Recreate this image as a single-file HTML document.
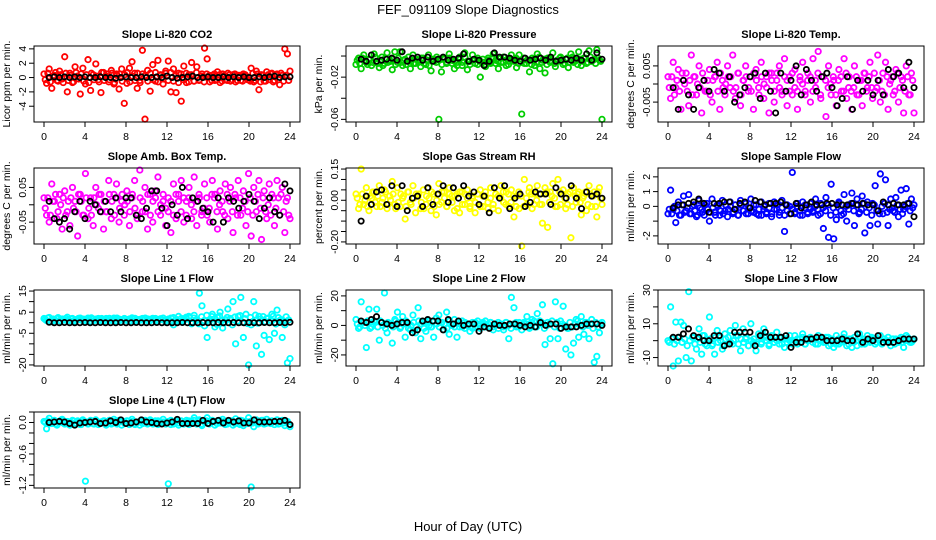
<!DOCTYPE html>
<html><head><meta charset="utf-8">
<style>
html,body{margin:0;padding:0;background:#fff;}
svg{display:block;font-family:"Liberation Sans",Arial,sans-serif;}
</style></head>
<body>
<svg id="chart" width="936" height="540" viewBox="0 0 936 540" xmlns="http://www.w3.org/2000/svg">
<rect width="936" height="540" fill="#fff"/>
<text x="468" y="14" text-anchor="middle" font-size="13">FEF_091109  Slope Diagnostics</text>
<text x="468" y="531" text-anchor="middle" font-size="13">Hour of Day (UTC)</text>
</svg>
<script>
const xTicks = [0,4,8,12,16,20,24];
const titles = ["Slope Li-820 CO2","Slope Li-820 Pressure","Slope Li-820 Temp.","Slope Amb. Box Temp.","Slope Gas Stream RH","Slope Sample Flow","Slope Line 1 Flow","Slope Line 2 Flow","Slope Line 3 Flow","Slope Line 4 (LT) Flow"];
const yLabels = ["Licor ppm per min.","kPa per min.","degrees C per min.","degrees C per min.","percent per min.","ml/min per min.","ml/min per min.","ml/min per min.","ml/min per min.","ml/min per min."];
const yTicks = [[-4,-2,0,2,4],[-0.06,-0.04,-0.02,0],[-0.005,0,0.005],[-0.05,0,0.05],[-0.2,-0.15,-0.1,-0.05,0,0.05,0.1,0.15],[-2,-1,0,1,2],[-20,-15,-10,-5,0,5,10,15],[-20,-10,0,10,20],[-10,0,10,20,30],[-1.2,-1.0,-0.8,-0.6,-0.4,-0.2,0,0.2]];
const yTickLabels = [["-4","-2","0","2","4"],["-0.06","","-0.02",""],["-0.005","","0.005"],["-0.05","","0.05"],["-0.20","","","","0.00","","","0.15"],["-2","","0","1","2"],["-20","","","-5","","5","","15"],["-20","","0","","20"],["-10","","10","","30"],["-1.2","","","-0.6","","","0.0",""]];
const colors = ["#ff0000","#00cd00","#ff00ff","#ff00ff","#ffff00","#0000ff","#00ffff","#00ffff","#00ffff","#00ffff"];

const p1c=[.5,-.8,1.2,-1.5,.3,-.4,.9,-.2, 2.9,-2,.6,-.7,1.5,.2,-2.3,1.3, -.9,2.5,-1.8,.4,1.9,-.3,-2.1,.7, .2,-.6,1,-.9,.5,-1.6,1.2,-3.6, -.8,1.3,2.2,.6,-1.5,-.4,3.8,-5.8, 1,-1.9,1.8,-.5,2.4,.3,-.9,.9, 2.3,-2,1.2,-2.1,.6,-3.3,1.6,-.7, .4,2.1,-.5,1.5,-.3,.5,4.1,2.6, -.6,.3,-.4,.8,-.7,.5,-.3,.6, -.5,.4,-.6,.3,-.4,.5,.2,-.3, 1.3,-.6,.9,-1.7,.4,-.5,.8,-.3, .6,-.4,.5,-1,.3,4,3.3,.9];
const p1d=[-.3,.6,-.6,.2,.7,-.5,.4,-.7, .6,-.4,.3,-.6,.7,-.2,.5,-.5, .4,-.7,.6,-.3,.2,-.6,.7,-.4, .5,-.3,.6,-.7,.3,.5,-.5,.4, .7,-.6,.2,-.4,.6,-.7,.5,.3, -.5,.6,-.3,.7,-.6,.4,-.2,.6, -.4,.7,-.5,.3,-.7,.5,-.3,.6, -.6,.4,-.5,.7,-.4,.2,-.6,.5, .3,-.4,.5,-.3,.4,-.5,.3,-.4, .4,-.3,.5,-.4,.3,-.5,.4,-.3, -.5,.6,-.4,.5,-.6,.3,-.5,.4, .5,-.6,.4,-.3,.6,-.5,.3,-.4];
const p1k=[0,.1,0,.1,0,.1,0,.1, 0,0,.1,0,0,-.1,0,.1, 0,0,.1,0,0,.1,0,.2, 0,-.1,0,.1,.2,0,0,.1, 0,0,.1,0,.1,0,.1,0, 0,.1,0,.1,.2,0,.1,.1];
const p2c=[-.008,-.002,-.012,.001,-.006,-.003,-.009,.002, -.005,-.011,-.001,-.007,.003,-.004,-.013,.004, -.006,.004,-.009,-.003,-.005,-.012,.001,-.007, -.004,-.01,-.002,-.008,.001,-.014,-.003,-.006, -.06,-.015,-.002,-.007,.002,-.004,-.012,-.006, -.001,-.009,.003,-.013,-.005,.001,-.003,-.008, -.02,-.006,-.01,-.002,-.007,.002,-.004,-.012, -.006,-.001,-.009,-.005,.001,-.003,-.011,.001, -.055,-.007,-.004,-.015,-.002,-.009,.002,-.012, -.004,-.016,-.002,-.006,.003,-.01,-.005,-.001, -.008,-.003,-.011,.002,-.006,-.004,.004,-.009, -.002,-.007,.005,-.005,-.003,.006,-.004,-.06];
const p2d=[-.004,-.007,-.002,-.005,-.008,-.003,-.006,-.001, -.007,-.004,-.009,-.002,-.006,-.005,-.003,-.008, -.002,-.006,-.004,-.008,-.001,-.005,-.007,-.003, -.006,-.002,-.007,-.004,-.009,-.003,-.005,-.001, -.004,-.008,-.003,-.006,-.002,-.007,-.005,-.009, -.003,-.006,-.001,-.005,-.008,-.004,-.007,-.002, -.005,-.003,-.008,-.004,-.006,-.001,-.007,-.005, -.002,-.006,-.004,-.008,-.003,-.005,-.002,-.007, -.005,-.002,-.007,-.004,-.008,-.003,-.006,-.001, -.006,-.003,-.008,-.002,-.005,-.007,-.004,-.002, -.004,-.007,-.002,-.006,-.001,-.005,-.008,-.003, -.005,-.002,-.006,-.001,-.004,-.007,-.002,-.005];
const p2k=[-.003,-.005,.001,-.005,-.004,-.003,-.002,-.004, .004,-.005,-.002,-.001,-.004,-.001,-.005,-.003, -.001,-.004,-.003,-.002,.002,-.005,-.003,-.004, -.009,-.005,.003,-.001,-.001,-.002,-.004,-.005, -.002,-.004,-.003,-.002,-.004,-.001,-.005,-.004, -.003,-.004,-.002,-.004,.002,-.004,.003,-.003];
const p3c=[.002,-.004,.006,-.001,.004,-.007,.001,.003, -.006,.008,.002,-.003,.005,-.008,.001,-.002, .004,-.005,.002,.006,-.007,.001,-.003,.005, -.001,.008,-.004,.003,-.006,.001,.005,-.002, .002,-.007,.004,-.001,.006,-.004,.002,-.008, .003,-.005,.001,.005,-.002,.007,-.006,.002, -.003,.004,-.007,.001,.006,-.002,.003,-.005, .007,-.001,.009,-.004,.002,-.009,.005,-.003, .001,-.006,.004,-.002,.007,-.004,.002,-.007, .005,-.003,.001,-.006,.003,-.001,.006,-.004, -.002,.008,-.005,.003,.006,-.007,.001,-.003, .004,-.005,.002,-.008,.005,-.003,.003,-.008];
const p3d=[-.001,.002,-.003,.001,-.002,.003,0,-.002, .001,-.003,.002,0,-.001,.003,-.002,.001, -.003,.001,.002,-.002,.003,-.001,0,.002, .002,-.002,-.001,.003,-.003,.001,.002,-.001, -.002,.003,.001,-.003,.002,0,-.001,.003, .001,-.002,.003,-.001,-.003,.002,.001,-.002, .003,-.001,-.002,.002,0,-.003,.001,.002, -.002,.001,.003,-.003,.002,.001,-.001,0, .002,-.003,.001,.002,-.002,.003,-.001,-.002, -.001,.002,-.003,.001,.003,-.002,.002,-.001, .003,-.001,.001,-.002,-.003,.002,0,.002, -.002,.003,-.001,.001,-.002,.002,-.003,.001];
const p3k=[-.001,-.007,.001,-.003,-.007,-.001,.001,-.002, .004,.003,-.002,.002,-.005,-.003,-.001,.002, .003,-.004,.003,-.002,-.008,.003,-.002,.001, .005,-.003,.004,.001,-.002,.002,.003,-.001, -.006,-.004,.002,-.007,.001,-.002,.001,-.003, .001,-.003,.004,.002,.003,-.001,.006,-.001];
const p4c=[.02,-.03,-.05,.06,.01,-.04,.03,-.07, .04,-.02,-.06,.05,.01,-.09,.03,-.03, .09,-.04,.02,-.06,.05,-.01,.03,-.07, -.02,.07,-.04,.03,.06,-.05,.01,-.03, .04,-.06,.02,.07,-.04,.1,-.02,.05, -.07,.03,-.05,.04,.08,-.03,.01,-.06, .02,-.08,.06,-.04,.03,.07,-.05,.01, .05,-.04,.08,-.06,.02,-.02,.06,-.03, -.05,.07,.03,-.07,.04,-.02,.06,-.04, .05,-.08,.02,.07,-.03,.04,-.06,.09, -.09,.05,-.02,.07,-.1,.04,-.04,.06, .03,-.06,.07,-.03,.05,-.08,.02,-.04];
const p4d=[-.01,.02,-.03,.01,.03,-.02,0,.02, -.03,.01,.02,-.01,-.02,.03,.01,-.03, .02,-.01,-.03,.02,0,.03,-.02,.01, -.02,.03,.01,-.03,.02,-.01,.03,0, .01,-.02,.03,-.01,-.03,.02,.01,-.02, .03,-.03,.01,.02,-.02,0,.03,-.01, -.02,.01,-.03,.03,.01,-.02,.02,-.03, .02,0,-.02,.01,.03,-.03,-.01,.02, -.01,.03,.02,-.02,0,.01,-.03,.03, .01,-.02,.03,-.03,.02,-.01,.01,-.02, .02,-.03,.01,.03,-.01,.02,-.02,0, -.03,.02,-.01,.02,.03,-.02,.01,-.03];
const p4k=[.01,-.04,-.05,-.04,-.07,-.02,.01,-.04, .01,0,-.02,.01,-.02,.02,-.02,.02, .02,-.03,-.04,-.01,.04,.04,-.01,-.06, 0,-.03,.05,-.04,.02,.01,-.01,-.02, -.05,.02,-.05,.02,.01,-.01,.01,.03, .01,-.04,-.01,.02,-.02,-.03,.06,.04];
const p5c=[.03,-.04,.15,-.02,.06,-.05,.01,.04, -.03,.07,-.01,.05,-.04,.02,.09,-.02, .06,-.03,.01,-.09,.04,-.01,.07,-.06, .02,-.04,.05,-.02,.06,-.05,.03,-.07, .08,-.01,.04,-.03,.06,.02,-.05,.03, -.06,.04,-.02,.05,-.04,.01,-.06,.03, .05,-.03,.02,-.04,.06,-.02,.03,-.05, .07,-.01,.04,-.03,.05,-.08,.02,-.04, -.22,.1,-.02,.06,-.04,.03,.07,-.02, -.11,.06,-.13,.04,.08,-.03,.1,-.02, .05,-.04,.03,-.18,.06,-.01,.04,-.07, .02,-.05,.07,-.03,.04,-.08,.06,-.02];
const p5d=[.01,-.02,.03,0,-.03,.02,.04,-.01, .02,-.03,.01,.04,-.02,0,.03,-.04, -.01,.03,.02,-.03,.04,-.02,.01,.03, .03,-.01,-.04,.02,.01,.04,-.03,0, -.02,.04,.01,-.03,.03,-.01,.02,-.04, .04,-.02,.03,.01,-.03,.02,-.01,.03, -.03,.02,.04,-.01,.01,-.04,.03,.02, .01,.04,-.02,.03,-.01,.02,-.03,.04, .02,-.03,.01,.04,.03,-.02,0,.03, -.02,.03,.04,-.01,.02,.01,-.03,.04, .03,.01,-.02,.04,-.03,.02,.03,-.01, .01,.04,-.02,.03,.02,-.03,.04,.01];
const p5k=[-.1,.02,-.02,.04,.05,-.02,.07,-.03, .07,-.05,.01,.02,-.03,.06,-.02,.03, .07,-.01,.06,.01,.07,.02,.04,-.02, .02,-.06,.06,.01,.07,-.04,.01,.03, -.03,-.01,.04,.03,.03,-.02,.06,.03, .01,.07,.01,-.04,.04,.02,.03,.01];
const p6c=[-.5,1.1,-.2,-1.1,.3,-.6,.7,-.3, .8,-.5,.1,-.7,.4,-.2,-.6,.2, -1,.5,-.4,.1,-.6,.4,-.3,-.7, .3,-.5,.1,-.6,.4,-.3,.2,-.5, .5,-.4,.1,-.6,.3,-.2,-.5,.2, -.7,.3,-.2,-.6,.4,-1.7,.1,-.5, 2.3,-.4,.2,-.6,.3,-.1,-.5,.2, -.3,.5,-.6,.2,-1.5,.6,-2.1,1.5, -2.2,-.9,.3,-.6,.8,-1,.1,.9, -1.3,.5,-.4,.7,-1.8,.3,-1.3,.2, 1.4,-1.2,2.2,-.5,1.8,-1.3,.5,-.3, .6,-.7,1.1,-.2,1.2,-1.2,.5,.1];
const p6d=[-.2,-.5,0,-.3,-.6,.1,-.4,-.1, -.5,0,-.3,-.6,-.1,-.4,.1,-.2, -.4,-.1,-.6,0,-.3,-.5,.1,-.2, 0,-.4,-.2,-.6,.1,-.3,-.5,-.1, -.3,.1,-.5,-.2,-.6,0,-.4,-.1, -.5,-.2,.1,-.4,-.1,-.6,-.3,0, -.2,-.5,0,-.3,-.6,.1,-.4,-.2, -.4,0,-.2,-.5,-.1,-.3,.1,-.6, -.1,-.4,.2,-.3,-.5,0,-.2,.2, -.3,.1,-.5,-.2,.2,-.4,-.1,-.6, .1,-.3,-.5,0,.2,-.4,-.2,-.1, -.4,.1,-.2,-.5,0,.2,-.3,-.1];
const p6k=[-.1,.1,.1,.2,.3,.5,.2,-.4, .2,.2,.3,.3,-.2,.2,.3,-.1, .4,.3,.1,.2,.2,.3,.1,-.5, .2,-.1,.1,.3,.1,.1,.2,.2, .1,.1,.1,.2,.1,.2,.1,.1, -.3,.3,.1,.2,.1,.1,.2,-.7];
const p7c=[2,1,2.5,.5,1.5,2,1,1.8, 1.2,2.6,1,2,.8,1.6,2.2,1, 1.4,2.2,.6,1.8,1.2,2,.9,1.6, 2,1,1.5,2.2,.8,1.7,1.3,2, 1,1.8,2.3,.7,1.5,1.1,2,1.4, .9,1.6,2.1,1.2,.8,1.9,1.3,.7, 1.5,2.2,-1,1.6,.6,2,1.1,1.8, 2.5,-.5,3.5,1,14,8,-1.5,-7, 1.5,4,-2,2.5,5,-2.5,1.5,6.5, 2,10,-10,3,12,-7,4,-20, -1,10,-11,3,-15,-6,2,-8, 4,-5,6,1,-7,-1,-19,-17];
const p7d=[1.5,2.2,.8,1.8,1.1,2.4,.9,1.6, 2,1.3,1.9,.7,1.5,2.1,1.2,1.7, .9,1.6,2.3,1,1.8,1.3,2,.8, 1.4,2.1,1,1.7,2.2,.9,1.5,1.9, 1.2,.8,1.7,2.1,1,1.6,1.3,2.2, 1.8,1,1.4,2,.9,1.5,2.2,1.1, 1.7,.6,2.4,1.2,3,.5,1.9,2.6, 3,.2,2.2,1.4,-.5,2.8,1,3.5, .5,2.9,1.8,-.8,3.2,1.2,.3,2.5, 1.6,-1,2.7,.8,3.4,.2,1.9,-.4, 2.5,.6,3.6,-.2,1.8,2.9,.4,2.2, 1.1,3.1,-.6,2.4,1.5,.8,2.8,1.3];
const p7k=[.2,0,0,.1,0,0,0,.1, 0,0,.1,0,0,0,.1,0, 0,.1,0,0,0,.1,0,0, 0,0,.1,0,0,0,.1,0, 0,.1,0,0,.1,0,0,.1, 0,0,.1,0,0,.1,0,.2];
const p8c=[4,-2,16,2,-15,11,-1,3, 11,-10,2,22,-5,1,-12,4, 9,-2,6,-8,1,-3,7,-5, 12,-9,2,-4,3,-1,-8,5, 7,2,-3,9,-6,1,4,-8, -1,3,-2,1,-4,2,-1,3, -2,1,3,-1,2,-3,1,-2, 1,-3,2,-9,19,12,-1,2, -3,1,6,-2,4,-1,8,3, 14,-13,2,-9,-26,16,-9,3, 13,-16,-2,-20,-12,4,-8,6, -6,2,-9,4,-25,-21,-5,2];
const p8d=[1,-1,2,0,3,-2,1,2, -1,3,0,-2,2,1,-1,3, 2,-1,1,3,-2,0,2,-1, 3,1,-2,2,0,-1,3,1, -1,2,1,-2,3,0,-1,2, 1,-1,2,0,1,-2,2,1, 0,2,-1,1,2,-1,0,2, 1,-1,2,0,-2,1,2,-1, 0,2,1,-1,2,3,-1,1, 2,-2,0,1,3,-1,2,-2, 1,0,-2,2,-1,1,3,0, -1,2,0,1,-2,2,-1,1];
const p8k=[3,2,4,6,2,1,0,1, 2,2,-5,-3,3,4,3,3, -3,4,1,3,0,1,1,-4, -1,-2,1,0,0,1,1,0, -1,0,-1,2,0,1,1,-2, -1,-1,-1,0,1,1,1,0];
const p9c=[0,20,-15,11,-12,11,9,-10, 29,-12,2,-5,7,-8,3,-3, 14,-3,-8,6,2,-5,4,-2, 6,-2,9,3,-6,7,1,-3, 10,-1,-6,4,-2,7,2,-3, 3,-1,5,-2,2,-4,1,3, -1,3,-2,1,4,-2,0,2, 1,-2,3,0,-1,2,-3,1, -4,3,-2,0,4,-3,1,-4, 2,-3,4,0,-2,3,-1,1, -2,1,3,-1,0,2,-3,1, 1,-1,2,-4,3,0,-1,1];
const p9d=[-1,1,-2,0,2,-1,1,-3, 0,2,-2,1,-1,3,-2,0, 1,-2,2,-1,0,-3,1,2, -1,0,3,-2,1,-1,2,-3, 0,1,-2,2,-1,3,0,-2, 1,-1,0,2,-2,1,-1,0, -2,0,1,-1,2,-2,0,1, -1,1,-2,0,1,-1,2,-2, 0,-2,1,-1,2,0,-2,1, -1,0,2,-2,1,-1,0,2, 1,-1,0,-2,1,0,-1,1, -2,0,1,-1,0,2,-1,0];
const p9k=[2,2,4,7,3,2,0,0, 3,3,-3,-2,5,5,5,5, -3,3,5,2,2,2,3,-4, -1,-1,1,1,2,2,0,0, 0,1,0,0,4,-1,1,0, 3,-1,-1,-1,0,1,1,1];
const p10c=[.02,-.12,.08,-.02,.04,-.05,.01,.06, -.03,.02,-.05,.04,-.01,.03,-.04,.05, -1.12,-.03,.04,-.02,.05,-.04,.01,.03, -.05,.02,-.03,.06,-.01,.04,-.05,.02, .03,-.04,.06,-.02,.01,-.05,.04,-.01, -.03,.05,-.02,.03,-.04,.01,.06,-.02, -1.17,.04,-.03,.02,-.05,.03,-.01,.04, -.04,.02,.09,-.03,.05,-.06,.02,.09, -.02,.04,-.05,.03,-.01,.06,-.04,.01, .03,-.05,.07,-.02,.04,-.06,.02,.09, -1.23,-.08,.05,-.02,.04,-.03,.06,-.01, .03,-.04,.05,-.02,.04,-.06,.02,-.08];
const p10d=[0,.03,-.02,.02,-.03,.01,.04,-.01, .02,-.03,0,.03,-.02,.01,-.04,.02, .01,-.02,.03,-.03,.02,0,-.01,.03, -.02,.04,-.01,.02,-.03,.01,.03,-.02, .03,-.01,.02,-.04,0,.02,-.02,.04, -.01,.02,-.03,.01,.03,-.02,.01,-.03, .02,-.04,.01,.03,-.01,.02,-.03,0, .03,-.02,.04,-.01,.02,-.03,.01,.03, -.03,.01,.02,-.02,.04,-.01,.02,-.03, .01,.03,-.02,.02,-.04,.03,0,-.02, .02,-.01,.03,-.03,.01,.04,-.02,.01, -.02,.02,.01,-.03,.03,-.01,.02,-.04];
const p10k=[0,.01,.02,.01,-.02,-.05,-.01,0, .01,.02,-.02,-.01,.03,0,.05,-.02, -.01,.01,.05,.01,0,-.02,-.03,-.01, .01,.06,-.02,-.02,-.02,-.02,.04,-.02, .02,.04,-.01,.04,.01,.03,-.01,-.01, .05,.01,.01,.01,.02,.02,.04,-.04];
const colorSeries=[p1c,p2c,p3c,p4c,p5c,p6c,p7c,p8c,p9c,p10c];
const coreSeries=[p1d,p2d,p3d,p4d,p5d,p6d,p7d,p8d,p9d,p10d];
const blackSeries=[p1k,p2k,p3k,p4k,p5k,p6k,p7k,p8k,p9k,p10k];

const yRanges=[[-6.2,4.4],[-0.0625,0.0095],[-0.0105,0.0105],[-0.113,0.106],[-0.21,0.155],[-2.55,2.6],[-20.5,15.5],[-27.5,24],[-15,30],[-1.25,0.2]];

const NS="http://www.w3.org/2000/svg";
const svg=document.getElementById('chart');
function mk(tag,attrs,parent){const e=document.createElementNS(NS,tag);for(const k in attrs)e.setAttribute(k,attrs[k]);(parent||svg).appendChild(e);return e;}

const colLeft=[34,346,658], rowTop=[46,168,290,412], W=266, H=76;
for(let p=0;p<10;p++){
  const L=colLeft[p%3], T=rowTop[Math.floor(p/3)], R=L+W, B=T+H;
  const g=mk('g',{});
  
  
  const xs=h=>L+10+h*(W-20)/24;
  const [y0,y1]=yRanges[p];
  const ys=v=>B-(v-y0)/(y1-y0)*H;
  const t=mk('text',{x:(L+R)/2,y:T-8,'text-anchor':'middle','font-size':11,'font-weight':'bold'},g);
  t.textContent=titles[p];
  
  
  const yl=mk('text',{x:0,y:0,'text-anchor':'middle','font-size':10.5,transform:`translate(${L-24},${(T+B)/2}) rotate(-90)`},g);
  yl.textContent=yLabels[p];
  
  
  const pts=mk('g',{fill:'none',stroke:colors[p],'stroke-width':1.8},g);
  
  
  const cs=colorSeries[p];
  cs.forEach((v,i)=>{
    const c=mk('circle',{cx:xs(i*24/(cs.length-1)),cy:ys(v),r:2.7},pts);
    
    
  });
  const ds=coreSeries[p];
  ds.forEach((v,i)=>{
    const c=mk('circle',{cx:xs((i+0.5)*24/ds.length),cy:ys(v),r:2.7},pts);
    
    
  });
  const bk=mk('g',{fill:'none',stroke:'#000','stroke-width':1.8},g);
  
  
  blackSeries[p].forEach((v,i)=>{
    const c=mk('circle',{cx:xs((i+1)*0.5),cy:ys(v),r:2.6},bk);
    
    
  });
  const box=mk('rect',{x:L,y:T,width:W,height:H,fill:'none',stroke:'#000','stroke-width':1},g);
  
  
  xTicks.forEach(h=>{
    mk('line',{x1:xs(h),x2:xs(h),y1:B,y2:B+5,stroke:'#000'},g);
    const tl=mk('text',{x:xs(h),y:B+18,'text-anchor':'middle','font-size':10.5},g);
    tl.textContent=h;
    
    
  });
  yTicks[p].forEach((v,i)=>{
    mk('line',{x1:L-5,x2:L,y1:ys(v),y2:ys(v),stroke:'#000'},g);
    const s=yTickLabels[p][i];
    if(s){
      const tl=mk('text',{x:0,y:0,'text-anchor':'middle','font-size':10.5,transform:`translate(${L-8},${ys(v)}) rotate(-90)`},g);
      tl.textContent=s;
      
      
    }
  });
}
</script>
</body></html>
